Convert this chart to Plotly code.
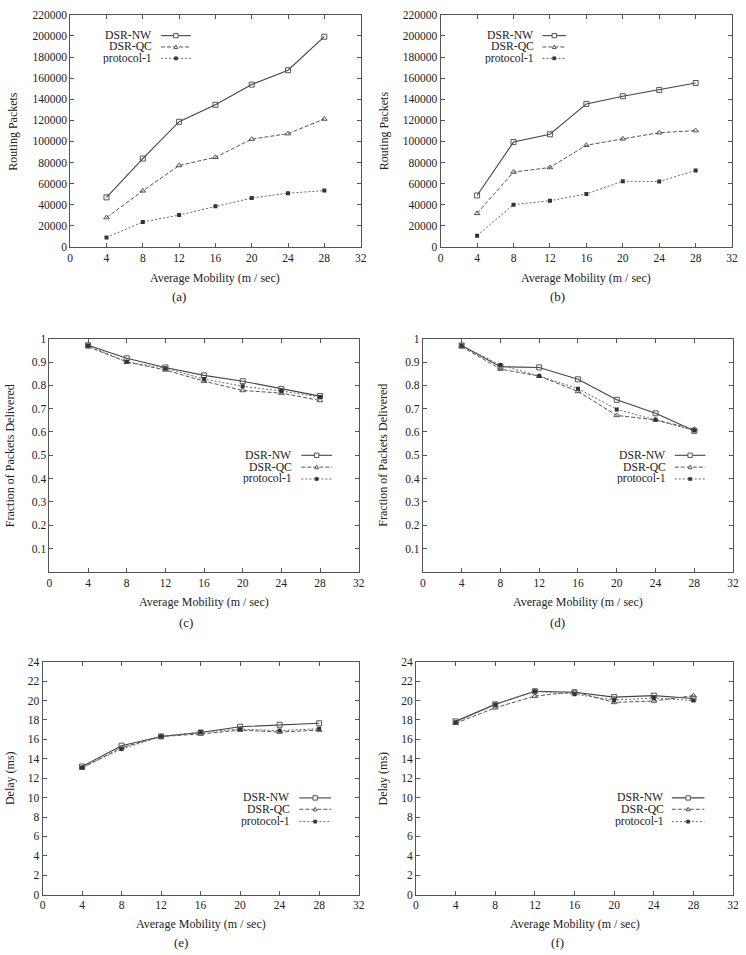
import plotly.graph_objects as go

W, H = 746, 955

mobility = [4, 8, 12, 16, 20, 24, 28]
series_names = ["DSR-NW", "DSR-QC", "protocol-1"]

# (a) Routing packets
a_nw = [47000, 83800, 118700, 134800, 153900, 167500, 199300]
a_qc = [27800, 53200, 77200, 85000, 102200, 107400, 121300]
a_p1 = [9000, 23600, 30200, 38600, 46400, 50900, 53500]
# (b) Routing packets
b_nw = [48800, 99400, 106800, 135600, 142900, 148900, 155400]
b_qc = [31800, 71000, 75300, 96400, 102500, 108300, 110300]
b_p1 = [10700, 40100, 43800, 50300, 62300, 62000, 72500]
# (c) Fraction delivered
c_nw = [0.972, 0.916, 0.877, 0.843, 0.818, 0.785, 0.754]
c_qc = [0.966, 0.900, 0.866, 0.818, 0.778, 0.767, 0.735]
c_p1 = [0.971, 0.901, 0.874, 0.827, 0.796, 0.776, 0.750]
# (d) Fraction delivered
d_nw = [0.971, 0.880, 0.877, 0.826, 0.738, 0.680, 0.605]
d_qc = [0.966, 0.870, 0.840, 0.774, 0.671, 0.652, 0.612]
d_p1 = [0.971, 0.887, 0.840, 0.786, 0.697, 0.652, 0.606]
# (e) Delay
e_nw = [13.2, 15.35, 16.3, 16.7, 17.3, 17.5, 17.65]
e_qc = [13.05, 15.15, 16.3, 16.55, 16.95, 16.75, 16.95]
e_p1 = [13.1, 15.0, 16.3, 16.75, 17.05, 16.9, 17.1]
# (f) Delay
f_nw = [17.85, 19.6, 20.95, 20.85, 20.35, 20.5, 20.2]
f_qc = [17.65, 19.25, 20.45, 20.9, 19.8, 19.95, 20.5]
f_p1 = [17.75, 19.6, 20.95, 20.65, 20.05, 20.25, 20.0]

x_ticks = [0, 4, 8, 12, 16, 20, 24, 28, 32]
rp_ticks = list(range(0, 220001, 20000))
frac_ticks = [0.1, 0.2, 0.3, 0.4, 0.5, 0.6, 0.7, 0.8, 0.9, 1.0]
frac_labels = ["0.1", "0.2", "0.3", "0.4", "0.5", "0.6", "0.7", "0.8", "0.9", "1"]
delay_ticks = list(range(0, 25, 2))

FONT = "Liberation Serif"
AX = "#555555"
TXT = "#222222"

styles = [
    dict(line=dict(color="#444444", width=1.1, dash="solid"),
         marker=dict(symbol="square-open", size=5, color="#555555", line=dict(width=1, color="#555555"))),
    dict(line=dict(color="#555555", width=1, dash="4px,2px"),
         marker=dict(symbol="triangle-up-open", size=5, color="#555555", line=dict(width=1, color="#555555"))),
    dict(line=dict(color="#666666", width=1, dash="2px,2px"),
         marker=dict(symbol="square", size=4, color="#333333")),
]

# panel boxes in px: left, top, right, bottom
panels = [
    dict(key="a", box=(68, 9, 362, 244), data=[a_nw, a_qc, a_p1], yr=[0, 220000], yt=rp_ticks, yl=None,
         ytitle="Routing Packets", ytx=10, xty=275, cap="(a)", capx=178, capy=294,
         leg=(153, 190, 160, [30, 41.5, 53])),
    dict(key="b", box=(443, 9, 738, 244), data=[b_nw, b_qc, b_p1], yr=[0, 220000], yt=rp_ticks, yl=None,
         ytitle="Routing Packets", ytx=386, xty=275, cap="(b)", capx=561, capy=294,
         leg=(540, 570, 546, [30, 41.5, 53])),
    dict(key="c", box=(47, 337, 360, 573), data=[c_nw, c_qc, c_p1], yr=[0, 1], yt=frac_ticks, yl=frac_labels,
         ytitle="Fraction of Packets Delivered", ytx=7, xty=604, cap="(c)", capx=185, capy=624,
         leg=(295, 333, 302, [455, 467, 479])),
    dict(key="d", box=(425, 337, 739, 573), data=[d_nw, d_qc, d_p1], yr=[0, 1], yt=frac_ticks, yl=frac_labels,
         ytitle="Fraction of Packets Delivered", ytx=385, xty=604, cap="(d)", capx=561, capy=624,
         leg=(673, 711, 680, [455, 467, 479])),
    dict(key="e", box=(40, 664, 360, 900), data=[e_nw, e_qc, e_p1], yr=[0, 24], yt=delay_ticks, yl=None,
         ytitle="Delay (ms)", ytx=7, xty=930, cap="(e)", capx=180, capy=948,
         leg=(293, 332, 300, [802, 813.5, 826])),
    dict(key="f", box=(418, 664, 739, 900), data=[f_nw, f_qc, f_p1], yr=[0, 24], yt=delay_ticks, yl=None,
         ytitle="Delay (ms)", ytx=385, xty=930, cap="(f)", capx=561, capy=948,
         leg=(671, 710, 677, [802, 813.5, 826])),
]


def fx(px):
    return px / W


def fy(py):
    return 1 - py / H


fig = go.Figure()
annotations = []
shapes = []

for i, p in enumerate(panels):
    n = "" if i == 0 else str(i + 1)
    xa, ya = "x" + n, "y" + n
    l, t, r, b = p["box"]
    for s, (vals, name) in enumerate(zip(p["data"], series_names)):
        fig.add_trace(go.Scatter(x=mobility, y=vals, name=name, mode="lines+markers",
                                 xaxis=xa, yaxis=ya, showlegend=False,
                                 line=styles[s]["line"], marker=styles[s]["marker"]))
    common = dict(showline=True, linecolor=AX, linewidth=1, mirror="ticks", ticks="inside",
                  ticklen=4, tickwidth=1, tickcolor=AX, showgrid=False, zeroline=False,
                  tickfont=dict(family=FONT, size=11.5, color=TXT))
    fig.layout["xaxis" + n] = dict(common, domain=[fx(l), fx(r)], anchor=ya, range=[0, 32],
                                   tickvals=x_ticks, ticktext=[str(v) for v in x_ticks])
    yax = dict(common, domain=[fy(b), fy(t)], anchor=xa, range=p["yr"], tickvals=p["yt"])
    if p["yl"] is not None:
        yax["ticktext"] = p["yl"]
    else:
        yax["ticktext"] = [str(v) for v in p["yt"]]
    fig.layout["yaxis" + n] = yax

    ctr = dict(xref="paper", yref="paper", showarrow=False, xanchor="center", yanchor="middle")
    # axis titles
    annotations.append(dict(ctr, x=fx(p["ytx"]), y=fy((t + b) / 2), text=p["ytitle"], textangle=-90,
                            font=dict(family=FONT, size=12, color=TXT)))
    annotations.append(dict(ctr, x=fx((l + r) / 2), y=fy(p["xty"]), text="Average Mobility (m / sec)",
                            font=dict(family=FONT, size=12, color=TXT)))
    annotations.append(dict(ctr, x=fx(p["capx"]), y=fy(p["capy"]), text=p["cap"],
                            font=dict(family=FONT, size=13, color=TXT)))

    # gnuplot-style key: text right-aligned, then line sample with marker
    tx, lx1, lx0, rows = p["leg"]
    for s, (name, ry) in enumerate(zip(series_names, rows)):
        annotations.append(dict(x=fx(tx), y=fy(ry), xref="paper", yref="paper", text=name,
                                showarrow=False, xanchor="right", yanchor="middle", height=11,
                                font=dict(family=FONT, size=11.7, color=TXT)))
        ln = styles[s]["line"]
        shapes.append(dict(type="line", xref="paper", yref="paper", x0=fx(lx0), x1=fx(lx1),
                           y0=fy(ry), y1=fy(ry), line=dict(color=ln["color"], width=ln["width"],
                                                           dash=ln["dash"])))
        mx = (lx0 + lx1) / 2
        if s == 0:
            shapes.append(dict(type="rect", xref="paper", yref="paper", x0=fx(mx - 2.2), x1=fx(mx + 2.2),
                               y0=fy(ry + 2.2), y1=fy(ry - 2.2), line=dict(color="#555555", width=1),
                               fillcolor="white"))
        elif s == 1:
            path = "M {} {} L {} {} L {} {} Z".format(fx(mx - 2.0), fy(ry + 1.6), fx(mx + 2.0), fy(ry + 1.6),
                                                      fx(mx), fy(ry - 2.0))
            shapes.append(dict(type="path", xref="paper", yref="paper", path=path,
                               line=dict(color="#555555", width=1), fillcolor="white"))
        else:
            shapes.append(dict(type="rect", xref="paper", yref="paper", x0=fx(mx - 1.6), x1=fx(mx + 1.6),
                               y0=fy(ry + 1.6), y1=fy(ry - 1.6), line=dict(color="#333333", width=0.5),
                               fillcolor="#333333"))

fig.update_layout(width=W, height=H, margin=dict(l=0, r=0, t=0, b=0),
                  paper_bgcolor="white", plot_bgcolor="white",
                  annotations=annotations, shapes=shapes, showlegend=False)

fig.write_html("out.html")
